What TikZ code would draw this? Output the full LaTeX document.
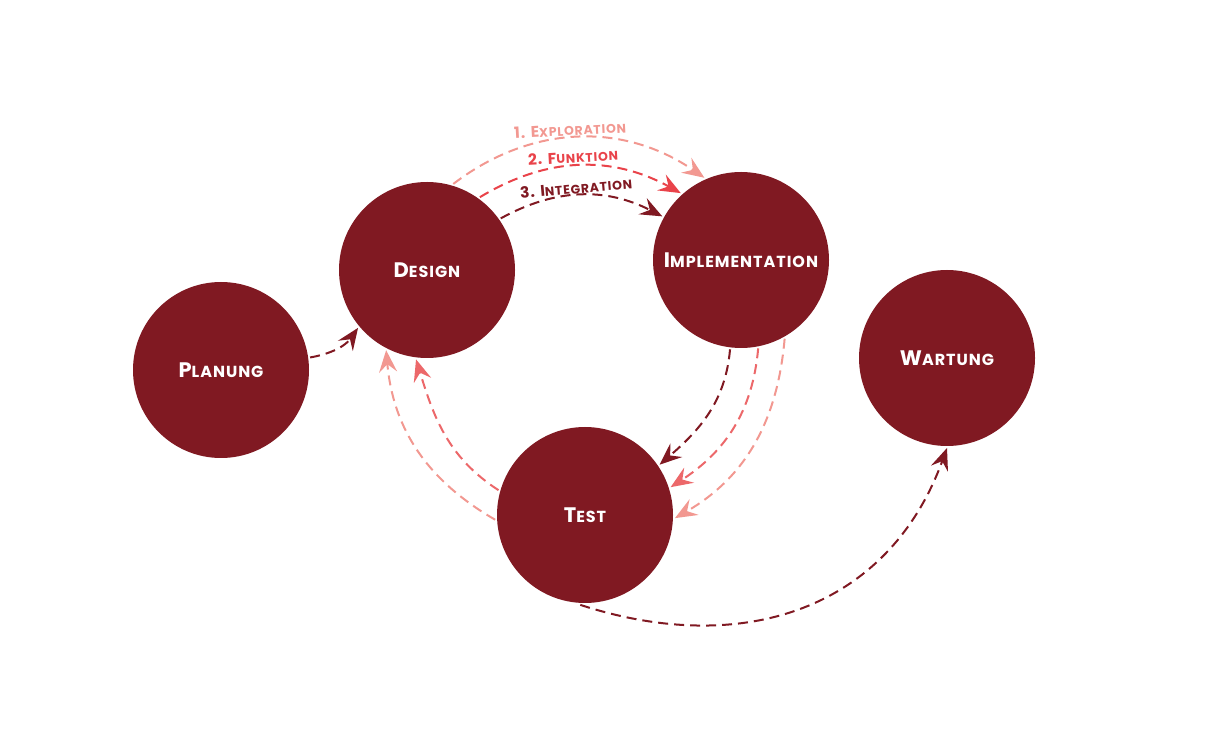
\documentclass[tikz,border=0pt]{standalone}
\usepackage{fontspec}
\setmainfont{Poppins}
\usetikzlibrary{arrows.meta}
\definecolor{wine}{RGB}{128,25,34}
\definecolor{rosa}{RGB}{242,152,145}
\definecolor{hellrot}{RGB}{233,67,74}
\definecolor{lachs}{RGB}{236,104,106}
\newcommand\circtext[2]{{\bfseries\addfontfeatures{LetterSpace=6}\fontsize{21}{21}\selectfont #1\fontsize{16}{16}\selectfont #2}}
\newcommand\iterlabel[2]{{\bfseries\addfontfeatures{LetterSpace=6}\fontsize{15.5}{15.5}\selectfont #1\fontsize{12.5}{12.5}\selectfont #2}}
\begin{document}
\begin{tikzpicture}[x=1pt, y=1pt,
    phase/.style={circle, fill=wine, text=white, minimum size=176pt, inner sep=0pt, outer sep=2pt},
    flow/.style={line width=2pt, dash pattern=on 10pt off 6pt,
      -{Stealth[length=22pt, width=18pt, inset=8pt]}}]
  \useasboundingbox (0,0) rectangle (1220,755);
  \draw
    (221,385) node[phase] (plan){\circtext{P}{LANUNG}}
    (427,485) node[phase] (des){\circtext{D}{ESIGN}}
    (741,495) node[phase] (impl){\circtext{I}{MPLEMENTATION}}
    (585,240) node[phase] (test){\circtext{T}{EST}}
    (947,397) node[phase] (wart){\circtext{W}{ARTUNG}};
  \node[rosa, rotate=3] (l1) at (570,625) {\iterlabel{1. E}{XPLORATION}};
  \node[hellrot, rotate=3] (l2) at (573,598) {\iterlabel{2. F}{UNKTION}};
  \node[wine, rotate=5] (l3) at (576,567) {\iterlabel{3. I}{NTEGRATION}};
  \begin{scope}[flow]
    \draw[wine] (plan.8) to[out=10, in=-125] (des.220);
    \draw[rosa] (des.73) to[bend left=36] (impl.114);
    \draw[hellrot] (des.54) to[bend left=30] (impl.132);
    \draw[wine] (des.35) to[bend left=28] (impl.151);
    \draw[wine] (impl.263) to[out=-95, in=41] (test.34);
    \draw[lachs] (impl.281) to[out=-95, in=33] (test.18);
    \draw[rosa] (impl.299) to[out=-95, in=30] (test.-2);
    \draw[rosa] (test.183) to[out=150, in=-85] (des.243);
    \draw[lachs] (test.164) to[out=147, in=-73] (des.263);
    \draw[wine] (test.267) to[out=-18, in=-110, looseness=1.1] (wart.270);
  \end{scope}
\end{tikzpicture}
\end{document}
